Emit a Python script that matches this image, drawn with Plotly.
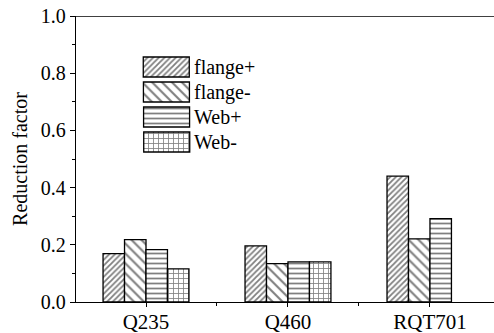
import plotly.graph_objects as go

# Data
grades = ["Q235", "Q460", "RQT701"]
positions = [1, 2, 3]
flange_plus = [0.169, 0.196, 0.440]
flange_minus = [0.218, 0.134, 0.221]
web_plus = [0.183, 0.140, 0.291]
web_minus = [0.116, 0.140, None]

series_names = ["flange+", "flange-", "Web+", "Web-"]
series_values = [flange_plus, flange_minus, web_plus, web_minus]

# Hatch styles (shape, spacing, line fraction)
hatches = [
    dict(shape="/", size=4, solidity=0.45),
    dict(shape="\\", size=7, solidity=0.3),
    dict(shape="-", size=5, solidity=0.35),
    dict(shape="+", size=5, solidity=0.3),
]

FONT = "Times New Roman, Liberation Serif, serif"
FS = 20

fig = go.Figure()

for name, vals, h in zip(series_names, series_values, hatches):
    fig.add_trace(go.Bar(
        x=positions, y=vals, name=name, showlegend=False,
        marker=dict(
            color="white",
            line=dict(color="black", width=1.3),
            pattern=dict(shape=h["shape"], size=h["size"], solidity=h["solidity"],
                         fgcolor="black", bgcolor="white", fillmode="overlay"),
        ),
    ))

# Hand-built legend drawn on an overlay axis (pixel-like coordinates)
leg_x0, leg_w, leg_h, leg_step, leg_top = 143.5, 46, 20, 25, 57
for i, (name, h) in enumerate(zip(series_names, hatches)):
    top = leg_top + i * leg_step
    fig.add_trace(go.Bar(
        x=[leg_x0 + leg_w / 2], y=[leg_h], base=[top], width=[leg_w],
        xaxis="x2", yaxis="y2", showlegend=False, hoverinfo="skip",
        marker=dict(
            color="white",
            line=dict(color="black", width=1.3),
            pattern=dict(shape=h["shape"], size=h["size"], solidity=h["solidity"],
                         fgcolor="black", bgcolor="white", fillmode="overlay"),
        ),
    ))
    fig.add_annotation(
        x=leg_x0 + leg_w + 2, y=top + leg_h / 2, xref="x2", yref="y2",
        text=name, showarrow=False, xanchor="left", yanchor="middle",
        font=dict(family=FONT, size=FS, color="black"),
    )

W, H = 494, 333
ml, mt, mb = 76, 16, 31

fig.update_layout(
    width=W, height=H,
    margin=dict(l=ml, r=0, t=mt, b=mb, pad=0, autoexpand=False),
    paper_bgcolor="white", plot_bgcolor="white",
    barmode="group", bargap=0.395, bargroupgap=0,
    font=dict(family=FONT, size=FS, color="black"),
    xaxis=dict(
        range=[0.507, 3.451], tickvals=positions, ticktext=grades,
        showline=True, linecolor="black", linewidth=1.3,
        ticks="outside", ticklen=4, tickwidth=1.3, tickcolor="black",
        ticklabelstandoff=-3,
        minor=dict(tickvals=[1.5, 2.5], ticks="outside", ticklen=3, tickwidth=1, tickcolor="black"),
        showgrid=False, zeroline=False, automargin=False,
        tickfont=dict(family=FONT, size=21),
    ),
    yaxis=dict(
        range=[0, 1.0], dtick=0.2, tickformat=".1f",
        showline=True, linecolor="black", linewidth=1.3,
        ticks="outside", ticklen=5, tickwidth=1.3, tickcolor="black",
        minor=dict(dtick=0.1, ticks="outside", ticklen=3, tickwidth=1, tickcolor="black"),
        showgrid=False, zeroline=False, automargin=False,
        title=dict(text="Reduction factor", font=dict(family=FONT, size=FS), standoff=7),
        tickfont=dict(family=FONT, size=FS),
    ),
    xaxis2=dict(overlaying="x", range=[ml, W], visible=False, fixedrange=True),
    yaxis2=dict(overlaying="y", range=[H - mb, mt], visible=False, fixedrange=True),
)

# Top frame line
fig.add_shape(type="line", xref="paper", yref="y", x0=0, x1=1, y0=1.0, y1=1.0,
              line=dict(color="black", width=1.3))

fig.write_html("out.html")
